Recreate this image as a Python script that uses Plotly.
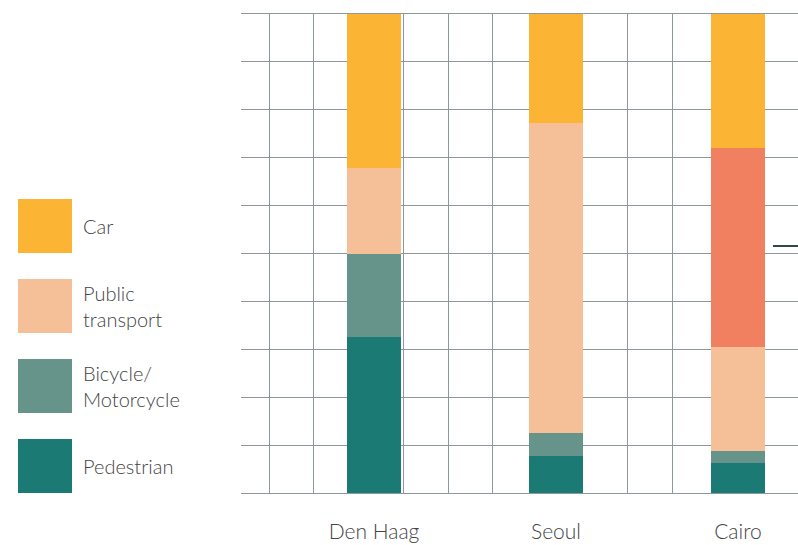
import plotly.graph_objects as go

cities = ["Den Haag", "Seoul", "Cairo"]
modes = ["Pedestrian", "Bicycle/<br>Motorcycle", "Public<br>transport", "Other", "Car"]
pedestrian = [32.5, 7.7, 6.3]
bicycle = [17.5, 4.8, 2.5]
public_transport = [17.8, 64.7, 21.7]
other = [0, 0, 41.5]
car = [32.2, 22.8, 28.0]
series = [pedestrian, bicycle, public_transport, other, car]
colors = ["#1B7A74", "#66948A", "#F5C097", "#F0805F", "#FBB433"]
legend_order = ["Car", "Public<br>transport", "Bicycle/<br>Motorcycle", "Pedestrian"]

xpos = list(range(len(cities)))
fig = go.Figure()
for name, vals, col in zip(modes, series, colors):
    fig.add_trace(go.Bar(x=xpos, y=vals, name=name, marker=dict(color=col, line=dict(width=0)),
                         width=0.297, showlegend=False))
# dummy trace for vertical grid axis
fig.add_trace(go.Scatter(x=[0], y=[0], xaxis="x2", mode="markers", marker=dict(opacity=0),
                         hoverinfo="skip", showlegend=False))

grid = "#8E979B"
txt = "#444444"
fig.update_layout(
    width=798, height=545, barmode="stack",
    margin=dict(l=241, r=0, t=14, b=52),
    paper_bgcolor="white", plot_bgcolor="white",
    font=dict(family="Lato", color=txt, weight=300),
    xaxis=dict(range=[-0.731, 2.330], tickvals=xpos, ticktext=cities, showgrid=False,
               zeroline=False, ticks="", tickfont=dict(size=21, color=txt, weight=300),
               ticklabelstandoff=20, showline=True, mirror=True, linecolor=grid, linewidth=1),
    xaxis2=dict(overlaying="x", range=[-0.625, 11.81], tick0=0, dtick=1, showgrid=True,
                gridcolor=grid, gridwidth=1, showticklabels=False, zeroline=False, ticks=""),
    yaxis=dict(range=[0, 100], dtick=10, showgrid=True, gridcolor=grid, gridwidth=1,
               showticklabels=False, zeroline=False, ticks=""),
)

# custom legend
box_tops = [199, 279, 359, 439]
for lab, top in zip(legend_order, box_tops):
    col = colors[modes.index(lab)]
    fig.add_shape(type="rect", xref="paper", yref="paper", x0=(18 - 241) / 557, x1=(72 - 241) / 557,
                  y0=(545 - (top + 54) - 52) / 479, y1=(545 - top - 52) / 479,
                  fillcolor=col, line=dict(width=0), layer="above")
    fig.add_annotation(xref="paper", yref="paper", x=(81 - 241) / 557,
                       y=(545 - (top + 27) - 52) / 479, text=lab, showarrow=False,
                       xanchor="left", yanchor="middle", align="left",
                       font=dict(size=20, color=txt, weight=300))

# short dash on the right
fig.add_shape(type="line", xref="paper", yref="paper", x0=(773 - 241) / 557, x1=1.0,
              y0=(545 - 246 - 52) / 479, y1=(545 - 246 - 52) / 479,
              line=dict(color="#34464a", width=2))

fig.write_html("out.html")
